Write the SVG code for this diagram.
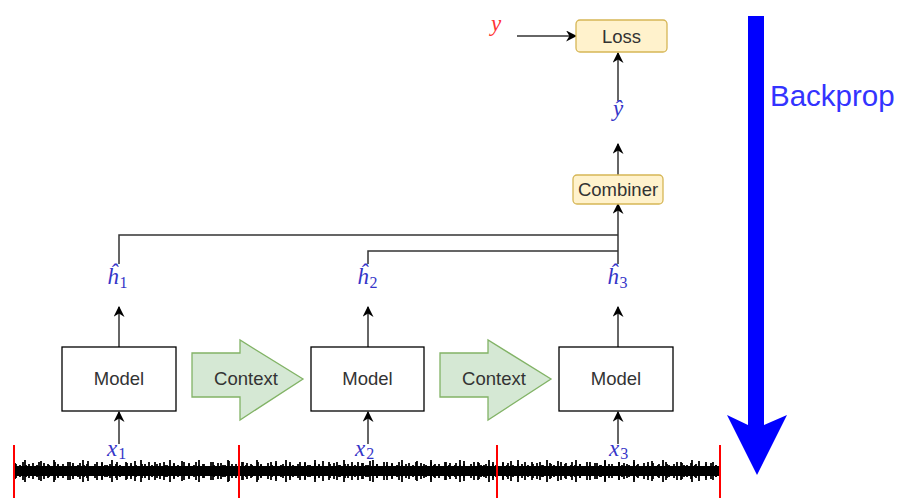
<svg xmlns="http://www.w3.org/2000/svg" width="900" height="498" viewBox="0 0 900 498">
<style>
.box{fill:#ffffff;stroke:#000000;stroke-width:1.3}
.yel{fill:#fff2cc;stroke:#d6b656;stroke-width:1.3}
.ctx{fill:#d5e8d4;stroke:#82b366;stroke-width:1.3}
.lbl{font-family:"Liberation Sans",Arial,sans-serif;font-size:18.5px;fill:#333333;text-anchor:middle}
.math{font-family:"Liberation Serif","DejaVu Serif",serif;font-style:italic;font-size:23px;fill:#3535c8}
.sub{font-size:16px;font-style:normal}
.con{fill:none;stroke:#333333;stroke-width:1.5}
.arr{marker-end:url(#ah)}
.red{stroke:#ff0000;stroke-width:2}
</style>
<defs>
<marker id="ah" viewBox="0 0 10 10" refX="9" refY="5" markerWidth="11" markerHeight="11" markerUnits="userSpaceOnUse" orient="auto">
<path d="M0,0 L10,5 L0,10 L3,5 z" fill="#000000"/>
</marker>
<pattern id="wA" x="14" y="459" width="47" height="24" patternUnits="userSpaceOnUse">
<path d="M2 5v14M5 7v10M9 3v18M12 6v12M16 8v8M19 4v16M23 6v12M27 2v20M30 7v10M34 5v14M38 8v8M41 3v18M44 6v12" stroke="#000" stroke-width="1.8"/>
</pattern>
<pattern id="wB" x="14" y="459" width="29" height="24" patternUnits="userSpaceOnUse">
<path d="M1 4v16M6 6v12M11 1v22M15 5v14M20 7v10M25 3v18" stroke="#000" stroke-width="1.8"/>
</pattern>
</defs>

<g id="waveform">
<rect x="14" y="466" width="706" height="10" fill="#000"/>
<rect x="14" y="459" width="706" height="24" fill="url(#wA)"/>
<rect x="14" y="459" width="706" height="24" fill="url(#wB)"/>
<line class="red" x1="14" y1="445" x2="14" y2="498"/>
<line class="red" x1="239" y1="445" x2="239" y2="498"/>
<line class="red" x1="497" y1="445" x2="497" y2="498"/>
<line class="red" x1="720" y1="445" x2="720" y2="498"/>
</g>

<g id="connectors">
<line class="con arr" x1="119" y1="444" x2="119" y2="412"/>
<line class="con arr" x1="368" y1="444" x2="368" y2="412"/>
<line class="con arr" x1="618" y1="444" x2="618" y2="412"/>
<line class="con arr" x1="119" y1="347" x2="119" y2="307"/>
<line class="con arr" x1="368" y1="347" x2="368" y2="307"/>
<line class="con arr" x1="618" y1="347" x2="618" y2="307"/>
<polyline class="con" points="119,264 119,235 618,235"/>
<polyline class="con" points="368,264 368,251 618,251"/>
<line class="con arr" x1="618" y1="264" x2="618" y2="204"/>
<line class="con arr" x1="618" y1="175" x2="618" y2="144"/>
<line class="con arr" x1="618" y1="101" x2="618" y2="53"/>
<line class="con arr" x1="517" y1="36" x2="576" y2="36"/>
</g>

<g id="model1"><rect class="box" x="62" y="347" width="114" height="64"/><text class="lbl" x="119" y="385">Model</text></g>
<g id="model2"><rect class="box" x="311" y="347" width="113" height="64"/><text class="lbl" x="367.5" y="385">Model</text></g>
<g id="model3"><rect class="box" x="559" y="347" width="114" height="64"/><text class="lbl" x="616" y="385">Model</text></g>

<g id="context1"><polygon class="ctx" points="192,353 240,353 240,340 303,379 240,420 240,397 192,397"/><text class="lbl" x="246" y="385">Context</text></g>
<g id="context2"><polygon class="ctx" points="440,353 488,353 488,340 551,379 488,420 488,397 440,397"/><text class="lbl" x="494" y="385">Context</text></g>

<g id="combiner"><rect class="yel" x="573" y="175" width="90" height="29" rx="4"/><text class="lbl" x="618" y="196">Combiner</text></g>
<g id="loss"><rect class="yel" x="576" y="20" width="91" height="32" rx="4"/><text class="lbl" x="621.5" y="43">Loss</text></g>

<g id="labels">
<text class="math" x="107" y="284">ĥ<tspan class="sub" dy="4" dx="1">1</tspan></text>
<text class="math" x="357" y="284">ĥ<tspan class="sub" dy="4" dx="1">2</tspan></text>
<text class="math" x="607" y="284">ĥ<tspan class="sub" dy="4" dx="1">3</tspan></text>
<text class="math" x="107" y="456">x<tspan class="sub" dy="3" dx="1">1</tspan></text>
<text class="math" x="355" y="456">x<tspan class="sub" dy="3" dx="1">2</tspan></text>
<text class="math" x="609" y="456">x<tspan class="sub" dy="3" dx="1">3</tspan></text>
<text class="math" x="618" y="116" text-anchor="middle">ŷ</text>
<text class="math" x="496" y="31" text-anchor="middle" style="fill:#ff3333">y</text>
</g>

<g id="backprop">
<polygon points="748,16 764,16 764,425 787,415 757,475 727,415 748,425" fill="#0000ff"/>
<text x="770" y="106" font-family="Liberation Sans, Arial, sans-serif" font-size="29.5" fill="#3333ff">Backprop</text>
</g>
</svg>
